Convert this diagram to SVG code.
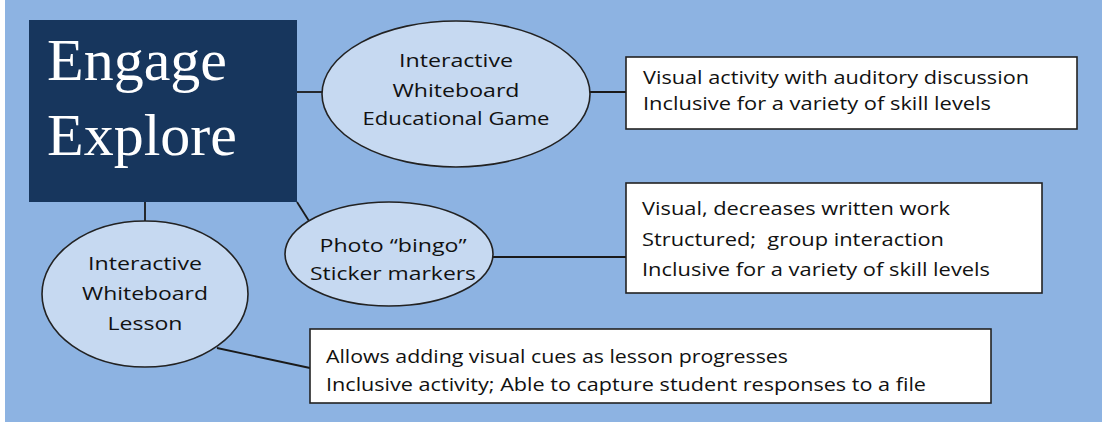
<svg xmlns="http://www.w3.org/2000/svg" width="1102" height="422" viewBox="0 0 1102 422">
<style>
.bg{fill:#8DB3E2}
.title{fill:#17365D}
.ell{fill:#C6D9F1;stroke:#222;stroke-width:1.6}
.box{fill:#fff;stroke:#222;stroke-width:1.6}
.con{stroke:#1a1a1a;stroke-width:1.8;fill:none}
.t{font-family:"Open Sans","Liberation Sans",sans-serif;font-size:19px;fill:#111;white-space:pre}
.c{text-anchor:middle}
.big{font-family:"Liberation Serif","DejaVu Serif",serif;font-size:60px;fill:#fff}
</style>
<rect x="0" y="0" width="1102" height="422" fill="#fff"/>
<rect class="bg" x="5" y="0" width="1097" height="422"/>
<g id="connectors">
<line class="con" x1="297" y1="92" x2="323" y2="92"/>
<line class="con" x1="589" y1="92" x2="626" y2="92"/>
<line class="con" x1="297" y1="202" x2="309" y2="221"/>
<line class="con" x1="492" y1="257" x2="626" y2="257"/>
<line class="con" x1="145" y1="202" x2="145" y2="221"/>
<line class="con" x1="217" y1="348" x2="310" y2="368"/>
</g>
<g id="title">
<rect class="title" x="29" y="20" width="268" height="182"/>
<text class="big" x="47" y="80">Engage</text>
<text class="big" x="47" y="155">Explore</text>
</g>
<g id="game">
<ellipse class="ell" cx="456" cy="94" rx="134" ry="73"/>
<text class="t c" x="456" y="67" textLength="114" lengthAdjust="spacingAndGlyphs">Interactive</text>
<text class="t c" x="456" y="97" textLength="127" lengthAdjust="spacingAndGlyphs">Whiteboard</text>
<text class="t c" x="456" y="125" textLength="187" lengthAdjust="spacingAndGlyphs">Educational Game</text>
</g>
<g id="box1">
<rect class="box" x="626" y="57" width="451" height="72"/>
<text class="t" x="643" y="84" textLength="386" lengthAdjust="spacingAndGlyphs">Visual activity with auditory discussion</text>
<text class="t" x="643" y="110" textLength="348" lengthAdjust="spacingAndGlyphs">Inclusive for a variety of skill levels</text>
</g>
<g id="bingo">
<ellipse class="ell" cx="389" cy="254" rx="104" ry="52"/>
<text class="t c" x="393" y="252" textLength="147" lengthAdjust="spacingAndGlyphs">Photo “bingo”</text>
<text class="t c" x="393" y="280" textLength="166" lengthAdjust="spacingAndGlyphs">Sticker markers</text>
</g>
<g id="box2">
<rect class="box" x="626" y="183" width="416" height="110"/>
<text class="t" x="642" y="215" textLength="308" lengthAdjust="spacingAndGlyphs">Visual, decreases written work</text>
<text class="t" x="642" y="246" textLength="302" lengthAdjust="spacingAndGlyphs">Structured;  group interaction</text>
<text class="t" x="642" y="276" textLength="348" lengthAdjust="spacingAndGlyphs">Inclusive for a variety of skill levels</text>
</g>
<g id="lesson">
<ellipse class="ell" cx="145" cy="294" rx="103" ry="73"/>
<text class="t c" x="145" y="270" textLength="114" lengthAdjust="spacingAndGlyphs">Interactive</text>
<text class="t c" x="145" y="300" textLength="126" lengthAdjust="spacingAndGlyphs">Whiteboard</text>
<text class="t c" x="145" y="330" textLength="75" lengthAdjust="spacingAndGlyphs">Lesson</text>
</g>
<g id="box3">
<rect class="box" x="310" y="329" width="681" height="74"/>
<text class="t" x="326" y="363" textLength="462" lengthAdjust="spacingAndGlyphs">Allows adding visual cues as lesson progresses</text>
<text class="t" x="326" y="391" textLength="600" lengthAdjust="spacingAndGlyphs">Inclusive activity; Able to capture student responses to a file</text>
</g>
</svg>
